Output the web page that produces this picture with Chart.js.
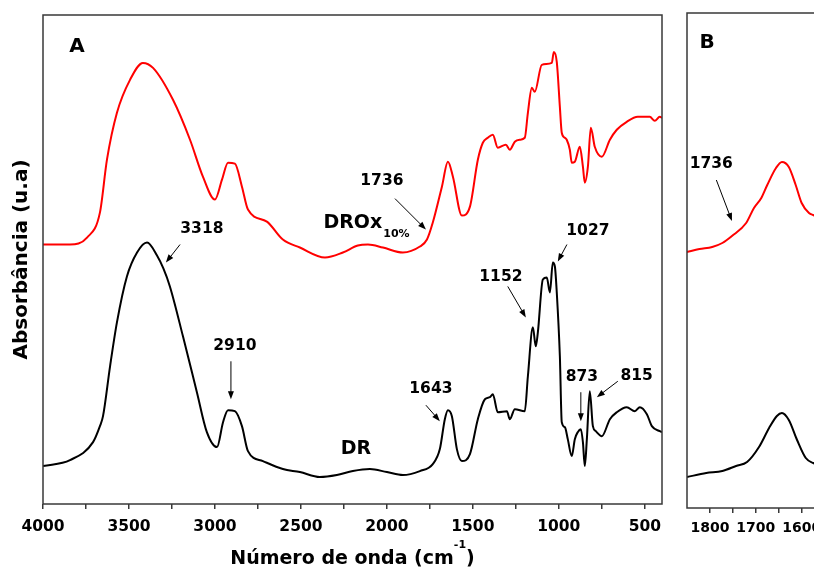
<!DOCTYPE html>
<html>
<head>
<meta charset="utf-8">
<script src="https://cdn.jsdelivr.net/npm/chart.js@4"></script>
<style>
  html, body { margin: 0; padding: 0; background: #fff; overflow: hidden; width: 814px; height: 568px; }
  #chartA { position: absolute; left: 0; top: 0; }
  #chartB { position: absolute; left: 664px; top: 0; }
</style>
</head>
<body>
<canvas id="chartA" width="814" height="568"></canvas>
<canvas id="chartB" width="210" height="568"></canvas>
<script>
// FTIR spectrum of DR (full range)
const wavenumberDR = [4000, 3843, 3709, 3669, 3651, 3610, 3570, 3512, 3453, 3395, 3337, 3300, 3262, 3186, 3105, 3047, 2988, 2953, 2924, 2884, 2843, 2808, 2721, 2605, 2506, 2390, 2291, 2198, 2099, 2000, 1907, 1808, 1733, 1692, 1663, 1645, 1622, 1593, 1564, 1517, 1471, 1430, 1401, 1384, 1355, 1302, 1285, 1256, 1198, 1180, 1151, 1134, 1122, 1093, 1070, 1052, 1035, 1023, 1012, 994, 983, 965, 948, 925, 907, 890, 872, 860, 849, 837, 820, 802, 785, 750, 703, 663, 605, 558, 529, 488, 459, 413, 400];
const absorbanceDR = [0.38, 0.44, 0.62, 0.78, 0.88, 1.38, 1.82, 2.28, 2.52, 2.62, 2.49, 2.36, 2.18, 1.68, 1.12, 0.72, 0.57, 0.82, 0.94, 0.93, 0.78, 0.53, 0.43, 0.35, 0.32, 0.27, 0.29, 0.33, 0.35, 0.32, 0.29, 0.33, 0.40, 0.55, 0.85, 0.94, 0.88, 0.55, 0.43, 0.50, 0.85, 1.05, 1.07, 1.10, 0.92, 0.93, 0.85, 0.95, 0.93, 1.28, 1.77, 1.58, 1.72, 2.25, 2.27, 2.12, 2.42, 2.38, 2.12, 1.48, 0.82, 0.77, 0.65, 0.48, 0.65, 0.72, 0.75, 0.62, 0.38, 0.65, 1.13, 0.78, 0.73, 0.68, 0.85, 0.92, 0.97, 0.93, 0.97, 0.90, 0.78, 0.73, 0.72];

// FTIR spectrum of DROx 10% (full range)
const wavenumberDROx = [4000, 3843, 3744, 3669, 3628, 3570, 3494, 3419, 3360, 3244, 3145, 3070, 3000, 2959, 2924, 2884, 2843, 2808, 2698, 2605, 2506, 2360, 2256, 2169, 2110, 2023, 1907, 1808, 1767, 1733, 1680, 1645, 1616, 1564, 1517, 1471, 1442, 1413, 1384, 1355, 1308, 1285, 1256, 1227, 1198, 1180, 1157, 1140, 1099, 1041, 1029, 1012, 994, 983, 965, 954, 936, 925, 907, 878, 860, 849, 831, 814, 791, 750, 703, 663, 605, 541, 471, 442, 413, 400];
const absorbanceDROx = [2.60, 2.60, 2.67, 2.92, 3.45, 3.92, 4.25, 4.42, 4.37, 4.05, 3.65, 3.28, 3.05, 3.25, 3.42, 3.41, 3.18, 2.95, 2.83, 2.65, 2.57, 2.47, 2.52, 2.59, 2.60, 2.57, 2.52, 2.58, 2.65, 2.82, 3.18, 3.43, 3.28, 2.89, 2.98, 3.45, 3.62, 3.67, 3.70, 3.57, 3.60, 3.55, 3.63, 3.65, 3.67, 3.92, 4.17, 4.13, 4.40, 4.42, 4.53, 4.43, 3.98, 3.72, 3.67, 3.65, 3.55, 3.42, 3.43, 3.58, 3.38, 3.22, 3.38, 3.77, 3.58, 3.48, 3.65, 3.75, 3.83, 3.88, 3.88, 3.84, 3.88, 3.87];

// Carbonyl region, expanded (panel B)
const wavenumberZoomDROx = [1850, 1823, 1795, 1773, 1752, 1721, 1704, 1688, 1675, 1656, 1643, 1628, 1613, 1600, 1584, 1575, 1560, 1540];
const absorbanceZoomDROx = [2.56, 2.59, 2.61, 2.65, 2.72, 2.85, 3.00, 3.10, 3.23, 3.40, 3.46, 3.41, 3.23, 3.05, 2.95, 2.93, 2.91, 2.93];
const wavenumberZoomDR = [1850, 1808, 1773, 1743, 1719, 1693, 1671, 1654, 1643, 1628, 1610, 1591, 1575, 1560, 1540];
const absorbanceZoomDR = [0.31, 0.35, 0.37, 0.42, 0.46, 0.61, 0.80, 0.92, 0.95, 0.88, 0.68, 0.50, 0.45, 0.43, 0.44];

// Axis ticks
const majorTicksA = [4000, 3500, 3000, 2500, 2000, 1500, 1000, 500];
const minorTicksA = [3750, 3250, 2750, 2250, 1750, 1250, 750];
const majorTicksB = [1800, 1700, 1600, 1500];
const minorTicksB = [1750, 1650, 1550];

// Peak labels and arrows, placed in data coordinates (wavenumber, absorbance)
const notesA = {
  texts: [
    { t: 'A', x: 3802, y: 4.58, size: 20 },
    { t: '3318', x: 3076, y: 2.76 },
    { t: '2910', x: 2884, y: 1.58 },
    { t: 'DR', x: 2180, y: 0.55, size: 19 },
    { t: 'DROx', sub: '10%', x: 2198, y: 2.82, size: 19 },
    { t: '1736', x: 2029, y: 3.24 },
    { t: '1643', x: 1744, y: 1.15 },
    { t: '1152', x: 1337, y: 2.27 },
    { t: '1027', x: 831, y: 2.74 },
    { t: '873', x: 866, y: 1.27 },
    { t: '815', x: 547, y: 1.28 }
  ],
  arrows: [
    [3203, 2.60, 3285, 2.42],
    [2907, 1.43, 2907, 1.05],
    [1953, 3.06, 1773, 2.75],
    [1773, 0.99, 1692, 0.83],
    [1297, 2.18, 1192, 1.87],
    [953, 2.60, 1006, 2.43],
    [872, 1.12, 872, 0.83],
    [657, 1.23, 779, 1.07]
  ]
};
const notesB = {
  texts: [
    { t: 'B', x: 1806, y: 4.65, size: 20 },
    { t: '1736', x: 1797, y: 3.44 }
  ],
  arrows: [
    [1786, 3.28, 1752, 2.87]
  ]
};

const FONT = '"DejaVu Sans", "Liberation Sans", sans-serif';

function toPoints(xs, ys) {
  return xs.map((v, i) => ({ x: v, y: ys[i] }));
}

function notesPlugin(notes, numSize) {
  return {
    id: 'peakNotes',
    afterDatasetsDraw(chart) {
      const { ctx } = chart;
      const sx = chart.scales.x, sy = chart.scales.y;
      ctx.save();
      ctx.fillStyle = '#000';
      ctx.strokeStyle = '#000';
      notes.arrows.forEach(a => {
        const x1 = sx.getPixelForValue(a[0]), y1 = sy.getPixelForValue(a[1]);
        const x2 = sx.getPixelForValue(a[2]), y2 = sy.getPixelForValue(a[3]);
        const ang = Math.atan2(y2 - y1, x2 - x1);
        const head = 8, hw = 3;
        const c = Math.cos(ang), s = Math.sin(ang);
        ctx.lineWidth = 1;
        ctx.beginPath();
        ctx.moveTo(x1, y1);
        ctx.lineTo(x2 - c * head * 0.7, y2 - s * head * 0.7);
        ctx.stroke();
        ctx.beginPath();
        ctx.moveTo(x2, y2);
        ctx.lineTo(x2 - head * c + hw * s, y2 - head * s - hw * c);
        ctx.lineTo(x2 - head * c - hw * s, y2 - head * s + hw * c);
        ctx.closePath();
        ctx.fill();
      });
      notes.texts.forEach(n => {
        const px = sx.getPixelForValue(n.x), py = sy.getPixelForValue(n.y);
        const size = n.size || numSize;
        ctx.font = `bold ${size}px ${FONT}`;
        ctx.textAlign = 'center';
        ctx.textBaseline = 'middle';
        ctx.fillText(n.t, px, py);
        if (n.sub) {
          const w = ctx.measureText(n.t).width;
          ctx.font = `bold 11px ${FONT}`;
          ctx.textAlign = 'left';
          ctx.fillText(n.sub, px + w / 2 + 1, py + 12);
        }
      });
      ctx.restore();
    }
  };
}

const framePlugin = {
  id: 'plotFrame',
  afterDatasetsDraw(chart) {
    const { ctx, chartArea: a } = chart;
    ctx.save();
    ctx.strokeStyle = '#383838';
    ctx.lineWidth = 1.5;
    ctx.strokeRect(a.left, a.top, a.right - a.left, a.bottom - a.top);
    ctx.restore();
  }
};

// x-axis title with superscript unit
const xTitlePlugin = {
  id: 'waveTitle',
  afterDraw(chart) {
    const { ctx, chartArea: a } = chart;
    const main = 'Número de onda (cm', sup = '-1', close = ')';
    ctx.save();
    ctx.fillStyle = '#000';
    ctx.textBaseline = 'alphabetic';
    ctx.textAlign = 'left';
    ctx.font = `bold 19px ${FONT}`;
    const wMain = ctx.measureText(main).width;
    const wClose = ctx.measureText(close).width;
    ctx.font = `bold 11px ${FONT}`;
    const wSup = ctx.measureText(sup).width;
    const total = wMain + wSup + wClose;
    let x = (a.left + a.right) / 2 - total / 2;
    const base = 564;
    ctx.font = `bold 19px ${FONT}`;
    ctx.fillText(main, x, base);
    x += wMain;
    ctx.font = `bold 11px ${FONT}`;
    ctx.fillText(sup, x, base - 16);
    x += wSup;
    ctx.font = `bold 19px ${FONT}`;
    ctx.fillText(close, x, base);
    ctx.restore();
  }
};

function lineSet(label, pts, color) {
  return {
    label, data: pts, borderColor: color, borderWidth: 2,
    pointRadius: 0, fill: false, cubicInterpolationMode: 'monotone'
  };
}

function xScale(min, max, major, minor, size, pad, height) {
  const all = major.concat(minor).filter(v => v >= min && v <= max);
  return {
    type: 'linear', reverse: true, min, max,
    afterBuildTicks(scale) { scale.ticks = all.sort((p, q) => q - p).map(v => ({ value: v })); },
    afterFit(scale) { scale.height = height; },
    ticks: {
      autoSkip: false, maxRotation: 0, minRotation: 0, padding: pad, color: '#000',
      font: { family: FONT, weight: 'bold', size },
      callback: v => (major.includes(v) ? String(v) : '')
    },
    grid: { display: true, drawOnChartArea: false, drawTicks: true, tickLength: 5, color: '#383838', lineWidth: 1.5 },
    border: { display: false }
  };
}

Chart.defaults.font.family = FONT;

new Chart(document.getElementById('chartA'), {
  type: 'line',
  data: {
    datasets: [
      lineSet('DROx 10%', toPoints(wavenumberDROx, absorbanceDROx), '#ff0000'),
      lineSet('DR', toPoints(wavenumberDR, absorbanceDR), '#000000')
    ]
  },
  options: {
    responsive: false, animation: false, events: [],
    layout: { padding: { left: 0, top: 15, right: 152, bottom: 0 } },
    plugins: { legend: { display: false }, tooltip: { enabled: false } },
    scales: {
      x: xScale(400, 4000, majorTicksA, minorTicksA, 15.5, 9, 64),
      y: {
        min: 0, max: 4.9,
        afterFit(scale) { scale.width = 43; },
        ticks: { display: false },
        grid: { display: false },
        border: { display: false },
        title: {
          display: true, text: 'Absorbância (u.a)', color: '#000',
          font: { family: FONT, weight: 'bold', size: 20 },
          padding: { top: 10, bottom: 0 }
        }
      }
    }
  },
  plugins: [framePlugin, notesPlugin(notesA, 15.5), xTitlePlugin]
});

new Chart(document.getElementById('chartB'), {
  type: 'line',
  data: {
    datasets: [
      lineSet('DROx 10%', toPoints(wavenumberZoomDROx, absorbanceZoomDROx), '#ff0000'),
      lineSet('DR', toPoints(wavenumberZoomDR, absorbanceZoomDR), '#000000')
    ]
  },
  options: {
    responsive: false, animation: false, events: [],
    layout: { padding: { left: 0, top: 13, right: 26, bottom: 0 } },
    plugins: { legend: { display: false }, tooltip: { enabled: false } },
    scales: {
      x: xScale(1500, 1850, majorTicksB, minorTicksB, 14, 7, 60),
      y: {
        min: 0, max: 4.95,
        afterFit(scale) { scale.width = 23; },
        ticks: { display: false },
        grid: { display: false },
        border: { display: false }
      }
    }
  },
  plugins: [framePlugin, notesPlugin(notesB, 15.5)]
});
</script>
</body>
</html>
